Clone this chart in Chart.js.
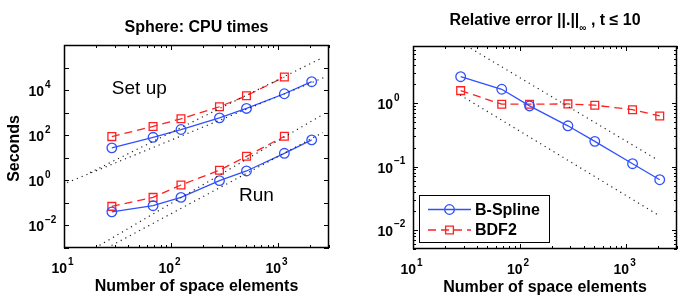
<!DOCTYPE html>
<html>
<head>
<meta charset="utf-8">
<script src="https://cdn.jsdelivr.net/npm/chart.js@4"></script>
<style>
  html, body { margin: 0; padding: 0; background: #fff; }
  #wrap { position: relative; width: 687px; height: 300px; }
  .panel { position: absolute; top: 0; height: 300px; }
  #left { left: 0; width: 345px; }
  #right { left: 345px; width: 342px; }
</style>
</head>
<body>
<div id="wrap">
  <div class="panel" id="left"><canvas id="cpu" width="345" height="300"></canvas></div>
  <div class="panel" id="right"><canvas id="err" width="342" height="300"></canvas></div>
</div>
<script>
// number of space elements (shared x values)
const elements = [28, 68, 124, 284, 508, 1148, 2066];

// CPU times, seconds
const setupBspline = [27.5, 81, 179, 590, 1540, 6900, 23600];
const setupBdf2 = [87, 245, 535, 1830, 5650, 38000];
const runBspline = [0.04, 0.075, 0.175, 0.97, 2.6, 15.8, 62];
const runBdf2 = [0.07, 0.175, 0.62, 2.8, 11.6, 90];

// relative error, max norm
const errBspline = [2.62, 1.66, 0.906, 0.44, 0.25, 0.111, 0.062];
const errBdf2 = [1.58, 0.965, 0.965, 0.975, 0.93, 0.79, 0.63];

// dotted slope guides, end points in data units
const cpuGuides = [
  [{ x: 17.5, y: 2.2 }, { x: 2630, y: 2.8e5 }],
  [{ x: 10.7, y: 0.79 }, { x: 2870, y: 4.07e4 }],
  [{ x: 19.5, y: 1.0e-3 }, { x: 2630, y: 830 }],
  [{ x: 25.2, y: 1.0e-3 }, { x: 2630, y: 132 }]
];
const errGuides = [
  [{ x: 34.8, y: 7.35 }, { x: 1963, y: 0.128 }],
  [{ x: 27.7, y: 1.35 }, { x: 1963, y: 0.0175 }]
];

// tick values
const xMajor = [10, 100, 1000];
const xMinor = [20, 30, 40, 50, 60, 70, 80, 90, 200, 300, 400, 500, 600, 700, 800, 900, 2000, 3000];
const cpuYTicks = [1e-3, 1e-2, 1e-1, 1, 10, 100, 1e3, 1e4, 1e5, 1e6];
const cpuYLabels = [-2, 0, 2, 4];
const errYMajor = [0.01, 0.1, 1];
const errYMinor = [0.005, 0.006, 0.007, 0.008, 0.009, 0.02, 0.03, 0.04, 0.05, 0.06, 0.07, 0.08, 0.09,
  0.2, 0.3, 0.4, 0.5, 0.6, 0.7, 0.8, 0.9, 2, 3, 4, 5, 6, 7, 8];
const errYLabels = [-2, -1, 0];

// text placed in data units
const cpuNotes = [
  { text: 'Set up', x: 28, y: 1.1e4 },
  { text: 'Run', x: 433, y: 0.2 }
];

const FAM = '"Liberation Sans", Arial, Helvetica, sans-serif';
const BLUE = '#3050ff';
const RED = '#ff2020';

const pts = (vals) => vals.map((v, i) => ({ x: elements[i], y: v }));

function spline(label, vals) {
  return {
    label, data: pts(vals), borderColor: BLUE, borderWidth: 1.3,
    pointStyle: 'circle', pointRadius: 4.8, pointBorderWidth: 1.3,
    pointBorderColor: BLUE, pointBackgroundColor: 'rgba(0,0,0,0)'
  };
}
function bdf(label, vals) {
  return {
    label, data: pts(vals), borderColor: RED, borderWidth: 1.3, borderDash: [8, 5],
    pointStyle: 'rect', pointRadius: 5.5, pointBorderWidth: 1.3,
    pointBorderColor: RED, pointBackgroundColor: 'rgba(0,0,0,0)'
  };
}
function guide(seg) {
  return {
    label: '', data: seg, borderColor: '#222', borderWidth: 1.2, borderDash: [1.2, 4],
    pointRadius: 0
  };
}

function drawPow(ctx, e, ax, ay, axis) {
  const ex = e < 0 ? '\u2212' + (-e) : String(e);
  ctx.font = 'bold 14px ' + FAM;
  const wb = ctx.measureText('10').width;
  ctx.font = 'bold 10px ' + FAM;
  const we = ctx.measureText(ex).width;
  let bx, by;
  if (axis === 'x') {
    bx = ax - (wb + 1 + we) / 2 - 1.5;
    by = ay;
  } else {
    bx = ax - wb;
    by = ay + 6;
  }
  ctx.textAlign = 'left';
  ctx.textBaseline = 'alphabetic';
  ctx.font = 'bold 14px ' + FAM;
  ctx.fillText('10', bx, by);
  ctx.font = 'bold 10px ' + FAM;
  ctx.fillText(ex, bx + wb + 1, by - 8.5);
}

const matlabAxes = {
  id: 'matlabAxes',
  afterDatasetsDraw(chart, args, o) {
    const { ctx, chartArea: ca } = chart;
    const xs = chart.scales.x, ys = chart.scales.y;
    ctx.save();
    ctx.fillStyle = '#000';
    ctx.strokeStyle = '#000';

    // ticks, pointing inward on all four sides
    ctx.lineWidth = 1;
    ctx.beginPath();
    const xt = (v, len) => {
      const p = Math.round(xs.getPixelForValue(v)) + 0.5;
      ctx.moveTo(p, ca.bottom); ctx.lineTo(p, ca.bottom - len);
      ctx.moveTo(p, ca.top); ctx.lineTo(p, ca.top + len);
    };
    const yt = (v, len) => {
      const p = Math.round(ys.getPixelForValue(v)) + 0.5;
      ctx.moveTo(ca.left, p); ctx.lineTo(ca.left + len, p);
      ctx.moveTo(ca.right, p); ctx.lineTo(ca.right - len, p);
    };
    xMajor.forEach(v => xt(v, 5));
    xMinor.forEach(v => xt(v, 3));
    o.yMajor.forEach(v => yt(v, 5));
    (o.yMinor || []).forEach(v => yt(v, 3));
    ctx.stroke();

    // frame
    ctx.lineWidth = 1.5;
    ctx.strokeRect(ca.left + 0.5, ca.top + 0.5, ca.right - ca.left - 1, ca.bottom - ca.top - 1);

    // tick labels
    xMajor.forEach(v => drawPow(ctx, Math.round(Math.log10(v)), xs.getPixelForValue(v), ca.bottom + 25, 'x'));
    o.yLabels.forEach(e => drawPow(ctx, e, ca.left - 20, ys.getPixelForValue(Math.pow(10, e)), 'y'));

    const cx = (ca.left + ca.right) / 2;

    // title
    ctx.textBaseline = 'alphabetic';
    const parts = o.title;
    let total = 0;
    const widths = parts.map(p => {
      ctx.font = (p.sub ? 'bold 10px ' : 'bold 16px ') + FAM;
      const w = ctx.measureText(p.text).width;
      total += w;
      return w;
    });
    let tx = cx - total / 2;
    ctx.textAlign = 'left';
    parts.forEach((p, i) => {
      ctx.font = (p.sub ? 'bold 10px ' : 'bold 16px ') + FAM;
      ctx.fillText(p.text, tx, o.titleY + (p.sub ? 6 : 0));
      tx += widths[i];
    });

    // axis labels
    ctx.font = 'bold 16px ' + FAM;
    ctx.textAlign = 'center';
    ctx.fillText('Number of space elements', cx, ca.bottom + 43);
    if (o.yTitle) {
      ctx.save();
      ctx.translate(19, (ca.top + ca.bottom) / 2 + 2);
      ctx.rotate(-Math.PI / 2);
      ctx.fillText(o.yTitle, 0, 0);
      ctx.restore();
    }

    // notes in data units
    (o.notes || []).forEach(n => {
      ctx.font = '19px ' + FAM;
      ctx.textAlign = 'left';
      ctx.textBaseline = 'middle';
      ctx.fillText(n.text, xs.getPixelForValue(n.x), ys.getPixelForValue(n.y));
    });

    // legend box in the lower left corner
    if (o.legend) {
      const items = chart.data.datasets.filter(d => d.label);
      const lx = ca.left + 6, lw = 130, lh = 47, ly = ca.bottom - 7 - lh;
      ctx.fillStyle = '#fff';
      ctx.fillRect(lx, ly, lw, lh);
      ctx.lineWidth = 1;
      ctx.strokeStyle = '#000';
      ctx.strokeRect(lx + 0.5, ly + 0.5, lw, lh);
      items.forEach((d, i) => {
        const ry = ly + 14.5 + i * 20.5;
        ctx.strokeStyle = d.borderColor;
        ctx.lineWidth = d.borderWidth;
        ctx.setLineDash(d.borderDash || []);
        ctx.beginPath();
        ctx.moveTo(lx + 9, ry); ctx.lineTo(lx + 52, ry);
        ctx.stroke();
        ctx.setLineDash([]);
        ctx.fillStyle = 'rgba(0,0,0,0)';
        ctx.lineWidth = d.pointBorderWidth;
        Chart.helpers.drawPoint(ctx, { pointStyle: d.pointStyle, rotation: 0, radius: d.pointRadius, borderWidth: d.pointBorderWidth }, lx + 30.5, ry);
        ctx.fillStyle = '#000';
        ctx.font = 'bold 16px ' + FAM;
        ctx.textAlign = 'left';
        ctx.textBaseline = 'middle';
        ctx.fillText(d.label, lx + 56, ry + 1);
      });
    }
    ctx.restore();
  }
};

const base = (padding, ymin, ymax, axes) => ({
  responsive: false,
  animation: false,
  layout: { padding },
  scales: {
    x: { type: 'logarithmic', min: 10, max: 3000, display: false },
    y: { type: 'logarithmic', min: ymin, max: ymax, display: false }
  },
  plugins: { legend: { display: false }, tooltip: { enabled: false }, matlabAxes: axes }
});

new Chart(document.getElementById('cpu'), {
  type: 'line',
  data: {
    datasets: [
      ...cpuGuides.map(guide),
      spline('B-Spline', setupBspline),
      bdf('BDF2', setupBdf2),
      spline('B-Spline', runBspline),
      bdf('BDF2', runBdf2)
    ]
  },
  options: base({ left: 64, top: 45, right: 16, bottom: 52 }, 1e-3, 1e6, {
    title: [{ text: 'Sphere: CPU times' }],
    titleY: 32,
    yTitle: 'Seconds',
    yMajor: cpuYTicks,
    yLabels: cpuYLabels,
    notes: cpuNotes,
    legend: false
  }),
  plugins: [matlabAxes]
});

new Chart(document.getElementById('err'), {
  type: 'line',
  data: {
    datasets: [
      ...errGuides.map(guide),
      spline('B-Spline', errBspline),
      bdf('BDF2', errBdf2)
    ]
  },
  options: base({ left: 68, top: 46, right: 10, bottom: 51 }, 0.005, 8, {
    title: [{ text: 'Relative error ||.||' }, { text: '\u221e', sub: true }, { text: ' , t \u2264 10' }],
    titleY: 25,
    yMajor: errYMajor,
    yMinor: errYMinor,
    yLabels: errYLabels,
    legend: true
  }),
  plugins: [matlabAxes]
});
</script>
</body>
</html>
